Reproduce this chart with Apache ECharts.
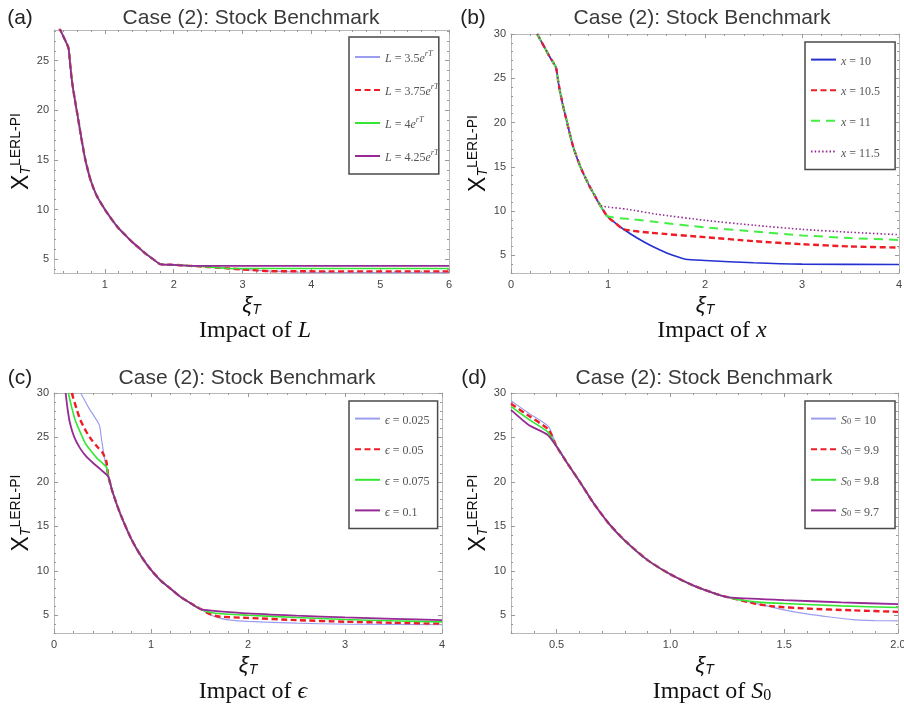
<!DOCTYPE html>
<html>
<head>
<meta charset="utf-8">
<title>Case (2): Stock Benchmark</title>
<script src="https://cdn.jsdelivr.net/npm/echarts@6/dist/echarts.min.js"></script>
<style>
  html, body { margin: 0; padding: 0; background: #fff; }
  #chart { width: 904px; height: 704px; }
</style>
</head>
<body>
<div id="chart"></div>
<script>
// ---- values: [xi_T, X_T] pairs ----

// (a) impact of L — all four follow one curve, then level off
var aShared = [[0.33, 28.4], [0.40, 27.4], [0.47, 26.3], [0.49, 25.0], [0.52, 23.0], [0.56, 21.2],
  [0.60, 19.6], [0.65, 17.5], [0.71, 15.2], [0.79, 13.0], [0.88, 11.4], [1.00, 10.0], [1.10, 9.0],
  [1.20, 8.1], [1.30, 7.4], [1.40, 6.7], [1.50, 6.1], [1.60, 5.5], [1.70, 5.0], [1.80, 4.5],
  [2.00, 4.42], [2.20, 4.34]];
var aL425 = aShared.concat([[2.30, 4.32], [6.00, 4.32]]);
var aL400 = aShared.concat([[2.40, 4.26], [2.60, 4.16], [2.80, 4.06], [6.00, 4.06]]);
var aL375 = aShared.concat([[2.40, 4.26], [2.60, 4.16], [2.80, 4.06], [3.00, 3.96], [3.20, 3.87],
  [3.40, 3.78], [6.00, 3.76]]);
var aL350 = aShared.concat([[2.40, 4.26], [2.60, 4.16], [2.80, 4.06], [3.00, 3.96], [3.20, 3.87],
  [3.40, 3.80], [3.80, 3.70], [4.20, 3.65], [6.00, 3.63]]);

// (b) impact of x
var bShared = [[0.27, 30.0], [0.35, 28.4], [0.40, 27.4], [0.464, 26.2], [0.49, 24.4], [0.53, 22.2],
  [0.578, 20.0], [0.64, 17.3], [0.715, 15.0], [0.80, 13.0], [0.86, 11.8], [0.92, 10.64]];
var bX115 = bShared.concat([[1.00, 10.45], [1.20, 10.2], [1.50, 9.65], [2.00, 8.95], [2.50, 8.4],
  [3.00, 7.93], [3.50, 7.6], [4.00, 7.33]]);
var bX110 = bShared.concat([[0.99, 9.44], [1.26, 9.06], [1.50, 8.75], [2.00, 8.15], [2.50, 7.7],
  [3.00, 7.25], [3.50, 6.95], [4.00, 6.73]]);
var bX105 = bShared.concat([[0.99, 9.44], [1.08, 8.6], [1.16, 7.94], [1.43, 7.56], [2.00, 7.05],
  [2.50, 6.6], [3.00, 6.25], [3.50, 6.0], [4.00, 5.87]]);
var bX100 = bShared.concat([[0.99, 9.44], [1.08, 8.6], [1.16, 7.94], [1.30, 6.95], [1.45, 6.05],
  [1.60, 5.3], [1.70, 4.9], [1.80, 4.55], [2.00, 4.42], [2.50, 4.15], [3.00, 4.0], [4.00, 3.96]]);

// (c) impact of epsilon
var cShared = [[0.56, 20.6], [0.60, 19.0], [0.68, 16.5], [0.80, 13.5], [0.90, 11.6], [1.00, 10.1],
  [1.10, 8.9], [1.20, 8.0], [1.30, 7.1], [1.40, 6.4], [1.52, 5.65]];
var cE0025 = [[0.275, 30.0], [0.36, 28.3], [0.467, 26.4], [0.49, 24.8], [0.51, 23.4], [0.535, 21.8]]
  .concat(cShared).concat([[1.60, 5.1], [1.70, 4.7], [1.82, 4.44], [2.00, 4.3], [2.50, 4.1],
  [3.00, 4.0], [4.00, 3.93]]);
var cE005 = [[0.183, 30.0], [0.23, 28.3], [0.27, 27.0], [0.33, 25.7], [0.39, 24.7], [0.45, 23.9],
  [0.50, 23.3], [0.54, 22.3]].concat(cShared).concat([[1.60, 5.15], [1.70, 4.85], [2.00, 4.7],
  [2.50, 4.45], [3.00, 4.27], [3.50, 4.15], [4.00, 4.05]]);
var cE0075 = [[0.148, 30.0], [0.18, 28.5], [0.217, 27.0], [0.27, 25.6], [0.32, 24.4], [0.38, 23.5],
  [0.44, 22.7], [0.50, 22.1], [0.544, 21.6]].concat(cShared).concat([[1.65, 5.25], [2.00, 5.0],
  [2.50, 4.75], [3.00, 4.52], [3.50, 4.37], [4.00, 4.25]]);
var cE01 = [[0.12, 30.0], [0.14, 28.2], [0.165, 26.6], [0.21, 25.0], [0.268, 23.8], [0.33, 22.9],
  [0.406, 22.1], [0.48, 21.4]].concat(cShared).concat([[2.00, 5.2], [2.50, 4.95], [3.00, 4.75],
  [3.50, 4.6], [4.00, 4.44]]);

// (d) impact of S0
var dShared = [[0.50, 24.0], [0.55, 22.0], [0.605, 19.9], [0.66, 17.7], [0.73, 15.3], [0.80, 13.4],
  [0.90, 11.2], [1.00, 9.6], [1.10, 8.35], [1.20, 7.4], [1.257, 7.0]];
var dS100 = [[0.30, 29.13], [0.38, 27.7], [0.466, 26.2]].concat(dShared).concat([[1.30, 6.75],
  [1.40, 6.2], [1.50, 5.6], [1.60, 5.15], [1.70, 4.8], [1.80, 4.5], [1.90, 4.4], [2.00, 4.36]]);
var dS99 = [[0.30, 28.8], [0.38, 27.4], [0.464, 25.9]].concat(dShared).concat([[1.30, 6.75],
  [1.37, 6.3], [1.45, 6.0], [1.60, 5.75], [1.80, 5.55], [2.00, 5.38]]);
var dS98 = [[0.30, 28.5], [0.38, 27.0], [0.462, 25.6]].concat(dShared).concat([[1.30, 6.75],
  [1.40, 6.45], [1.50, 6.32], [1.75, 6.05], [2.00, 5.87]]);
var dS97 = [[0.30, 28.1], [0.378, 26.4], [0.46, 25.3]].concat(dShared).concat([[1.50, 6.7],
  [1.75, 6.45], [2.00, 6.24]]);

// axis ranges and tick values
var aXRange = [0.26, 6], aYRange = [3.6, 28.1];
var bXRange = [0, 4], bYRange = [3, 30];
var cXRange = [0, 4], cYRange = [3, 30];
var dXRange = [0.3, 2.0], dYRange = [3, 30];
var aXTicks = [1, 2, 3, 4, 5, 6];
var aYTicks = [5, 10, 15, 20, 25];
var bcXTicks = [0, 1, 2, 3, 4];
var yTicks = [5, 10, 15, 20, 25, 30];
var dXTicks = [0.5, 1.0, 1.5, 2.0];

// legend entries (series names) per panel
var aNames = ['L = 3.5e^rT', 'L = 3.75e^rT', 'L = 4e^rT', 'L = 4.25e^rT'];
var bNames = ['x = 10', 'x = 10.5', 'x = 11', 'x = 11.5'];
var cNames = ['ϵ = 0.025', 'ϵ = 0.05', 'ϵ = 0.075', 'ϵ = 0.1'];
var dNames = ['S0 = 10', 'S0 = 9.9', 'S0 = 9.8', 'S0 = 9.7'];

var legendText = {
  'L = 3.5e^rT': '{i|L}{n| = 3.5}{i|e}{sup|rT}',
  'L = 3.75e^rT': '{i|L}{n| = 3.75}{i|e}{sup|rT}',
  'L = 4e^rT': '{i|L}{n| = 4}{i|e}{sup|rT}',
  'L = 4.25e^rT': '{i|L}{n| = 4.25}{i|e}{sup|rT}',
  'x = 10': '{i|x}{n| = 10}',
  'x = 10.5': '{i|x}{n| = 10.5}',
  'x = 11': '{i|x}{n| = 11}',
  'x = 11.5': '{i|x}{n| = 11.5}',
  'ϵ = 0.025': '{i|ϵ}{n| = 0.025}',
  'ϵ = 0.05': '{i|ϵ}{n| = 0.05}',
  'ϵ = 0.075': '{i|ϵ}{n| = 0.075}',
  'ϵ = 0.1': '{i|ϵ}{n| = 0.1}',
  'S0 = 10': '{i|S}{sub|0}{n| = 10}',
  'S0 = 9.9': '{i|S}{sub|0}{n| = 9.9}',
  'S0 = 9.8': '{i|S}{sub|0}{n| = 9.8}',
  'S0 = 9.7': '{i|S}{sub|0}{n| = 9.7}'
};

// ---- styles ----
var SANS = "'Liberation Sans', Arial, Helvetica, sans-serif";
var SERIF = "'Liberation Serif', 'Times New Roman', 'DejaVu Serif', serif";
var FRAME = '#b8b8b8';
var TICK = '#999';
var LAV = '#9d9df0';
var RED = '#ee1c24';
var GREEN = '#33e633';
var PURPLE = '#952a95';
var BLUE = '#2430d0';

var grids = [
  { left: 54, top: 30, width: 395, height: 243 },
  { left: 511, top: 34, width: 388, height: 239 },
  { left: 54, top: 393, width: 388, height: 240 },
  { left: 511, top: 393, width: 387, height: 240 }
];

/** minor tick positions between majors (frame decoration only) */
function minorTicks(min, max, step, majors) {
  var out = [];
  var start = Math.ceil(min / step - 1e-6);
  var end = Math.floor(max / step + 1e-6);
  for (var k = start; k <= end; k++) {
    var v = Math.round(k * step * 1000) / 1000;
    var isMajor = false;
    for (var j = 0; j < majors.length; j++) {
      if (Math.abs(majors[j] - v) < 1e-6) isMajor = true;
    }
    if (!isMajor) out.push(v);
  }
  return out;
}

var xNameRich = {
  xi: { fontFamily: SANS, fontSize: 22, fontStyle: 'italic', color: '#111', lineHeight: 24, verticalAlign: 'bottom' },
  sub: { fontFamily: SANS, fontSize: 14, fontStyle: 'italic', color: '#111', lineHeight: 12, verticalAlign: 'bottom' }
};
var yNameRich = {
  x: { fontFamily: SANS, fontSize: 23, color: '#111', lineHeight: 24, verticalAlign: 'bottom' },
  sub: { fontFamily: SANS, fontSize: 14, fontStyle: 'italic', color: '#111', lineHeight: 12, verticalAlign: 'bottom' },
  sup: { fontFamily: SANS, fontSize: 14, color: '#111', lineHeight: 13, verticalAlign: 'top' }
};

/** one side pair (major + minor) for each of the two frame edges */
function frameAxes(gi, dim, range, major, minorStep, fmt) {
  var sides = dim === 'x' ? ['bottom', 'top'] : ['left', 'right'];
  var minor = minorTicks(range[0], range[1], minorStep, major);
  var list = [];
  for (var k = 0; k < 2; k++) {
    var main = {
      type: 'value', gridIndex: gi, position: sides[k], min: range[0], max: range[1],
      axisLine: { show: true, onZero: false, lineStyle: { color: FRAME, width: 1 } },
      axisTick: { show: true, inside: true, length: 4, customValues: major, lineStyle: { color: TICK } },
      axisLabel: { show: false },
      splitLine: { show: false },
      minorTick: { show: false }
    };
    if (k === 0) {
      main.axisLabel = {
        show: true, customValues: major, formatter: fmt, margin: dim === 'x' ? 6 : 5,
        color: '#444', fontSize: 11, fontFamily: SANS
      };
      if (dim === 'x') {
        main.name = '{xi|ξ}{sub|T}';
        main.nameLocation = 'middle';
        main.nameGap = 20;
        main.nameTextStyle = { rich: xNameRich };
      } else {
        main.name = '{x|X}{sub|T}{sup|LERL-PI}';
        main.nameLocation = 'middle';
        main.nameGap = 20;
        main.nameRotate = 90;
        main.nameTextStyle = { rich: yNameRich };
      }
    }
    list.push(main);
    list.push({
      type: 'value', gridIndex: gi, position: sides[k], min: range[0], max: range[1],
      axisLine: { show: false, onZero: false },
      axisTick: { show: true, inside: true, length: 2, customValues: minor, lineStyle: { color: TICK } },
      axisLabel: { show: false },
      splitLine: { show: false }
    });
  }
  return list;
}

function intFmt(v) { return String(Math.round(v)); }
function oneDec(v) { return v.toFixed(1); }

var xAxes = [].concat(
  frameAxes(0, 'x', aXRange, aXTicks, 0.2, intFmt),
  frameAxes(1, 'x', bXRange, bcXTicks, 0.2, intFmt),
  frameAxes(2, 'x', cXRange, bcXTicks, 0.2, intFmt),
  frameAxes(3, 'x', dXRange, dXTicks, 0.1, oneDec)
);
var yAxes = [].concat(
  frameAxes(0, 'y', aYRange, aYTicks, 1, intFmt),
  frameAxes(1, 'y', bYRange, yTicks, 1, intFmt),
  frameAxes(2, 'y', cYRange, yTicks, 1, intFmt),
  frameAxes(3, 'y', dYRange, yTicks, 1, intFmt)
);

function lineSeries(name, data, gi, color, width, dash) {
  return {
    type: 'line', name: name, data: data,
    xAxisIndex: gi * 4, yAxisIndex: gi * 4,
    showSymbol: false, symbol: 'none', clip: true,
    smooth: 0.2,
    lineStyle: { color: color, width: width, type: dash || 'solid' },
    itemStyle: { color: color }
  };
}

var series = [
  lineSeries(aNames[0], aL350, 0, LAV, 1.2),
  lineSeries(aNames[1], aL375, 0, RED, 2.4, [6, 3.5]),
  lineSeries(aNames[2], aL400, 0, GREEN, 1.6),
  lineSeries(aNames[3], aL425, 0, PURPLE, 1.8),

  lineSeries(bNames[0], bX100, 1, BLUE, 1.6),
  lineSeries(bNames[1], bX105, 1, RED, 2.4, [6, 3.5]),
  lineSeries(bNames[2], bX110, 1, '#44ee44', 2, [9, 6]),
  lineSeries(bNames[3], bX115, 1, PURPLE, 1.6, [1.5, 2.2]),

  lineSeries(cNames[0], cE0025, 2, LAV, 1.2),
  lineSeries(cNames[1], cE005, 2, RED, 2.4, [6, 3.5]),
  lineSeries(cNames[2], cE0075, 2, GREEN, 1.6),
  lineSeries(cNames[3], cE01, 2, PURPLE, 1.8),

  lineSeries(dNames[0], dS100, 3, LAV, 1.2),
  lineSeries(dNames[1], dS99, 3, RED, 2.4, [6, 3.5]),
  lineSeries(dNames[2], dS98, 3, GREEN, 1.6),
  lineSeries(dNames[3], dS97, 3, PURPLE, 1.8)
];

var legendRich = {
  n: { fontFamily: SERIF, fontSize: 12, color: '#555', lineHeight: 16, verticalAlign: 'bottom' },
  i: { fontFamily: SERIF, fontSize: 12, fontStyle: 'italic', color: '#555', lineHeight: 16, verticalAlign: 'bottom' },
  sup: { fontFamily: SERIF, fontSize: 8.5, fontStyle: 'italic', color: '#555', lineHeight: 9, verticalAlign: 'top' },
  sub: { fontFamily: SERIF, fontSize: 8.5, color: '#555', lineHeight: 6, verticalAlign: 'bottom' }
};

function legendBox(names, left, top, padRight) {
  return {
    data: names, orient: 'vertical', left: left, top: top,
    itemWidth: 25, itemHeight: 14, itemGap: 17,
    padding: [12, padRight, 10, 5],
    borderColor: '#4a4a4a', borderWidth: 1.5, backgroundColor: '#fff',
    selectedMode: false, z: 5,
    // hide the marker dot, keep only the line sample
    itemStyle: { opacity: 0, borderWidth: 0 },
    formatter: function(name) { return legendText[name] || name; },
    textStyle: { fontFamily: SERIF, fontSize: 12, color: '#555', rich: legendRich }
  };
}

var legends = [
  legendBox(aNames, 349, 37, 0),
  legendBox(bNames, 805, 42, 15),
  legendBox(cNames, 349, 401, 8),
  legendBox(dNames, 805, 401, 16)
];

// titles, panel letters and captions below each panel
var capRich = {
  n: { fontFamily: SERIF, fontSize: 24, fill: '#111', lineHeight: 28, verticalAlign: 'bottom' },
  i: { fontFamily: SERIF, fontSize: 24, fontStyle: 'italic', fill: '#111', lineHeight: 28, verticalAlign: 'bottom' },
  sub: { fontFamily: SERIF, fontSize: 16, fill: '#111', lineHeight: 14, verticalAlign: 'bottom' }
};
var panelText = [
  { letter: '(a)', lx: 20, ly: 18, tx: 251, ty: 18, cap: '{n|Impact of }{i|L}', cx: 255, cy: 329 },
  { letter: '(b)', lx: 473, ly: 18, tx: 702, ty: 18, cap: '{n|Impact of }{i|x}', cx: 712, cy: 329 },
  { letter: '(c)', lx: 20, ly: 378, tx: 247, ty: 378, cap: '{n|Impact of }{i|ϵ}', cx: 253, cy: 690 },
  { letter: '(d)', lx: 474, ly: 378, tx: 704, ty: 378, cap: '{n|Impact of }{i|S}{sub|0}', cx: 712, cy: 690 }
];
var graphics = [];
for (var p = 0; p < panelText.length; p++) {
  var t = panelText[p];
  graphics.push({
    type: 'text', x: t.tx, y: t.ty, silent: true,
    style: { text: 'Case (2): Stock Benchmark', fill: '#3a3a3a', fontSize: 21, fontFamily: SANS,
      align: 'center', verticalAlign: 'middle' }
  });
  graphics.push({
    type: 'text', x: t.lx, y: t.ly, silent: true,
    style: { text: t.letter, fill: '#222', fontSize: 21, fontFamily: SANS, align: 'center', verticalAlign: 'middle' }
  });
  graphics.push({
    type: 'text', x: t.cx, y: t.cy, silent: true,
    style: { text: t.cap, rich: capRich, align: 'center', verticalAlign: 'middle' }
  });
}

var gridOpts = [];
for (var g = 0; g < grids.length; g++) {
  gridOpts.push({
    left: grids[g].left, top: grids[g].top, width: grids[g].width, height: grids[g].height,
    containLabel: false, outerBoundsMode: 'none'
  });
}

var chart = echarts.init(document.getElementById('chart'), null, { renderer: 'canvas' });
chart.setOption({
  animation: false,
  backgroundColor: '#fff',
  grid: gridOpts,
  xAxis: xAxes,
  yAxis: yAxes,
  legend: legends,
  series: series,
  graphic: graphics
});
</script>
</body>
</html>
